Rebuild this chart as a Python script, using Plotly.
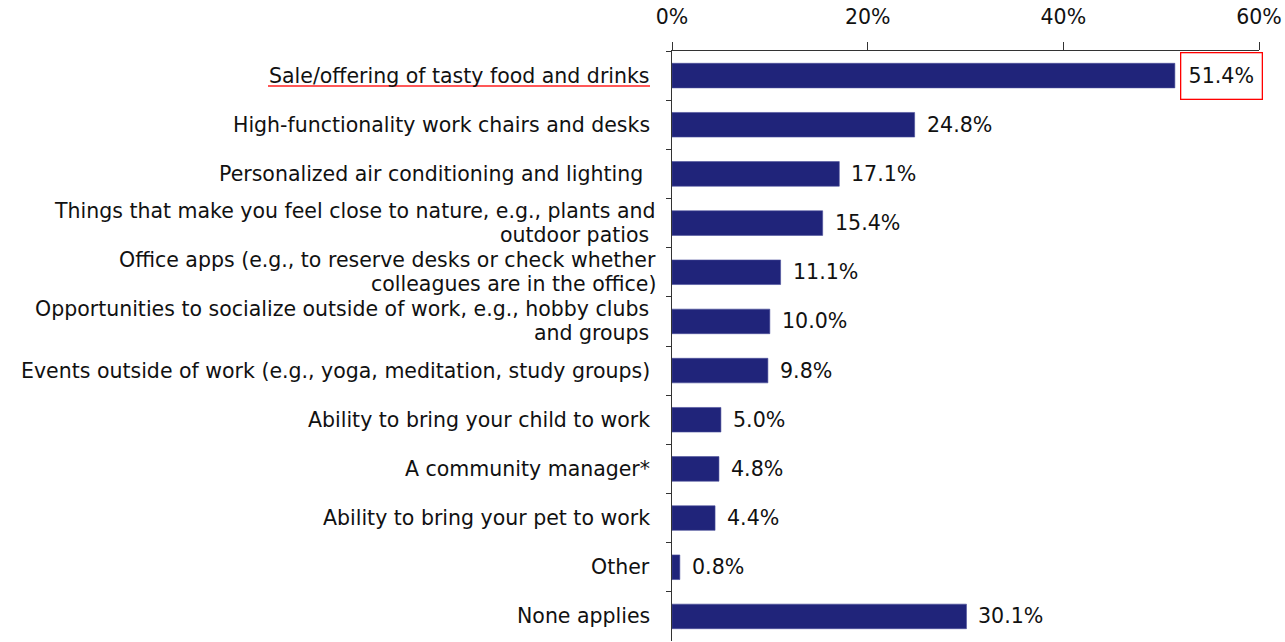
import plotly.graph_objects as go

categories = [
    "Sale/offering of tasty food and drinks",
    "High-functionality work chairs and desks",
    "Personalized air conditioning and lighting ",
    "Things that make you feel close to nature, e.g., plants and<br>outdoor patios ",
    "Office apps (e.g., to reserve desks or check whether<br>colleagues are in the office)",
    "Opportunities to socialize outside of work, e.g., hobby clubs <br>and groups ",
    "Events outside of work (e.g., yoga, meditation, study groups)",
    "Ability to bring your child to work",
    "A community manager*",
    "Ability to bring your pet to work",
    "Other",
    "None applies",
]
values = [51.4, 24.8, 17.1, 15.4, 11.1, 10.0, 9.8, 5.0, 4.8, 4.4, 0.8, 30.1]
x_ticks = [0, 20, 40, 60]
x_tick_labels = ["0%", "20%", "40%", "60%"]
highlight_index = 0

FONT = "DejaVu Sans"
BAR_COLOR = "#20247a"
TEXT = "#111111"
LINE_GAP = 24

fig = go.Figure()
fig.add_trace(go.Bar(
    x=values,
    y=categories,
    orientation="h",
    marker=dict(color=BAR_COLOR, line=dict(color="#4a4f9a", width=0.6)),
    width=0.5,
    hoverinfo="skip",
))

annotations = []
# category labels (drawn as annotations to get compact line spacing)
for c in categories:
    lines = c.split("<br>")
    n = len(lines)
    for j, ln in enumerate(lines):
        annotations.append(dict(
            x=0, y=c, xref="paper", yref="y",
            text=ln.replace(" ", "&nbsp;") if ln.endswith(" ") else ln,
            showarrow=False, xanchor="right", yanchor="middle",
            borderpad=0,
            xshift=-21 if n == 1 else -15,
            yshift=((n - 1) / 2 - j) * LINE_GAP,
            font=dict(family=FONT, size=20.5, color=TEXT),
        ))

# value labels
for i, (c, v) in enumerate(zip(categories, values)):
    a = dict(
        x=v, y=c, xref="x", yref="y",
        text=f"{v:.1f}%", showarrow=False,
        xanchor="left", yanchor="middle",
        font=dict(family=FONT, size=20.6, color=TEXT),
        xshift=10,
    )
    if i == highlight_index:
        a.update(dict(
            bordercolor="#ff0000", borderwidth=1.3, borderpad=0,
            width=80, height=45, align="center", xshift=5,
        ))
    annotations.append(a)

fig.update_layout(
    width=1285, height=642,
    margin=dict(l=672, r=26, t=51, b=1),
    paper_bgcolor="white", plot_bgcolor="white",
    showlegend=False,
    font=dict(family=FONT, size=20.5, color=TEXT),
    xaxis=dict(
        side="top", range=[0, 60], tickvals=x_ticks, ticktext=x_tick_labels,
        showgrid=False, zeroline=False, showline=True, linecolor="#333333",
        linewidth=1, ticks="outside", ticklen=8, tickcolor="#333333",
        tickfont=dict(family=FONT, size=20.5, color=TEXT),
        ticklabelstandoff=10,
        fixedrange=True,
    ),
    yaxis=dict(
        autorange="reversed", showgrid=False, zeroline=False, showline=True,
        linecolor="#333333", linewidth=1, ticks="outside", ticklen=5,
        tickcolor="#333333", tickson="boundaries",
        showticklabels=False,
        fixedrange=True,
    ),
    annotations=annotations,
    shapes=[dict(
        type="line", xref="paper", yref="paper",
        x0=(268 - 672) / 587, x1=(650 - 672) / 587,
        y0=1 - (86 - 51) / 590, y1=1 - (86 - 51) / 590,
        line=dict(color="#ff2020", width=1.6),
    )],
)

fig.write_html("out.html")
